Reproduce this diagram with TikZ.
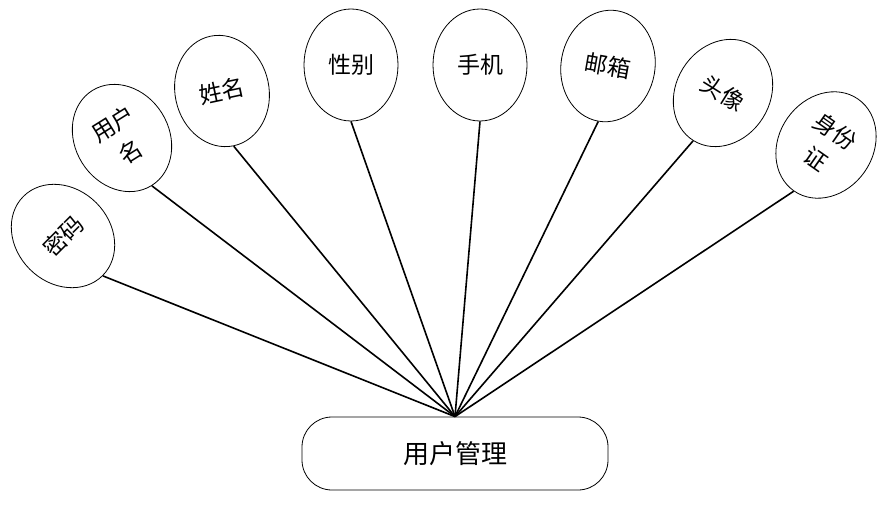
\documentclass[tikz,border=0pt]{standalone}
\usepackage{fontspec}
\newfontfamily\cjk{Noto Sans CJK SC}
\usetikzlibrary{shapes.geometric}
\begin{document}
\begin{tikzpicture}[x=1pt,y=-1pt,
  attr/.style={draw=black, line width=0.8pt, ellipse, minimum width=94pt, minimum height=112pt, inner sep=0pt,
    align=center, font=\cjk\fontsize{23}{34}\selectfont},
  entity/.style={draw=black, line width=0.8pt, rounded corners=30pt, minimum width=306pt, minimum height=73pt,
    font=\cjk\fontsize{26}{30}\selectfont},
  link/.style={draw=black, line width=1.6pt}]
\useasboundingbox (0,0) rectangle (886,505);
\node[entity] (box) at (455,453.5) {用户管理};
\coordinate (hub) at (box.north);
\node[attr, rotate=45] (mima) at (63,236) {密码};
\node[attr, rotate=32] (yhm) at (122,138) {用户\\名};
\node[attr, rotate=12] (xm) at (222,91) {姓名};
\node[attr] (xb) at (351,65) {性别};
\node[attr] (sj) at (480,65) {手机};
\node[attr, rotate=-10] (yx) at (608,66) {邮箱};
\node[attr, rotate=-32] (tx) at (723,93) {头像};
\node[attr, rotate=-35] (sfz) at (826,145) {身份\\证};
\foreach \n in {mima,yhm,xm,xb,sj,yx,tx,sfz}
  \draw[link] (\n.south) -- (hub);
\end{tikzpicture}
\end{document}
